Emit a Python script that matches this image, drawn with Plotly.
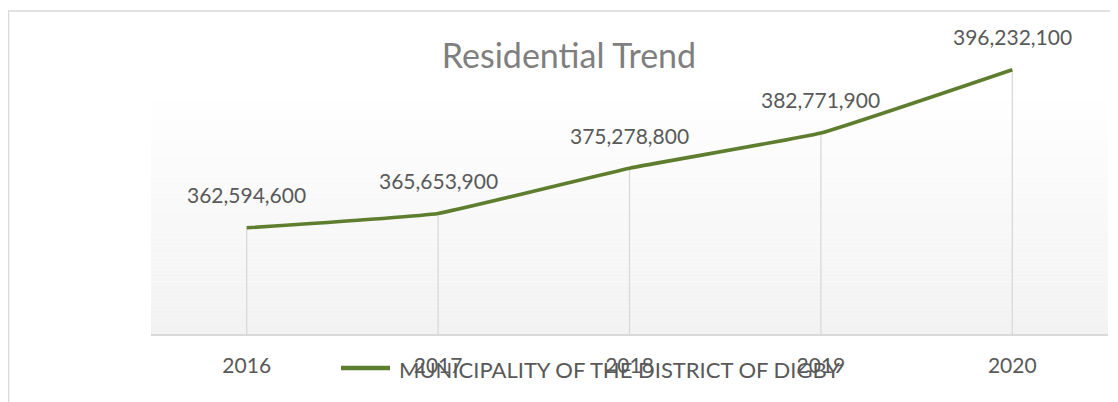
import plotly.graph_objects as go

# ---- data ----
years = ["2016", "2017", "2018", "2019", "2020"]
values = [362594600, 365653900, 375278800, 382771900, 396232100]
series_name = "MUNICIPALITY OF THE DISTRICT OF DIGBY"
title_text = "Residential Trend"
y_min, y_max = 340_000_000, 400_000_000

# ---- layout geometry (page offset of 8px compensated) ----
W, H = 1118, 402
OFF = 8
ML, MT = 151 - OFF, 52 - OFF
AXIS_Y = 334 - OFF
RIGHT_X = 1108 - OFF
MR, MB = W - RIGHT_X, H - AXIS_Y
PW, PH = W - ML - MR, H - MT - MB

def px_x(x):
    return (x - OFF - ML) / PW

def px_y(y):
    return (AXIS_Y - (y - OFF)) / PH

LINE_COLOR = "#5F7D2E"
TEXT_COLOR = "#595959"
GRID_COLOR = "#D9D9D9"
FONT = "Lato, 'Open Sans', sans-serif"

fig = go.Figure()

idx = list(range(len(years)))

# drop lines from axis to each point
dx, dy = [], []
for i, v in zip(idx, values):
    dx += [i, i, None]
    dy += [y_min, v, None]
fig.add_trace(go.Scatter(x=dx, y=dy, mode="lines",
                         line=dict(color=GRID_COLOR, width=1.3),
                         hoverinfo="skip", showlegend=False))

# main series
fig.add_trace(go.Scatter(x=idx, y=values, mode="lines", name=series_name,
                         line=dict(color=LINE_COLOR, width=3.6, shape="spline", smoothing=0.3),
                         showlegend=False))

# data labels
for i, v in zip(idx, values):
    fig.add_annotation(x=i, y=v, xref="x", yref="y", text=f"{v:,}", showarrow=False, yshift=33,
                       yanchor="middle", xanchor="center",
                       font=dict(family=FONT, size=21, color=TEXT_COLOR))

shapes = []
# gradient plot background
top_px, bot_px = 92, 334
N = 60
for k in range(N):
    t0 = k / N
    t1 = (k + 1) / N
    y0 = top_px + (bot_px - top_px) * t0
    y1 = top_px + (bot_px - top_px) * t1
    tm = (t0 + t1) / 2
    c = round(255 - (255 - 242) * tm)
    shapes.append(dict(type="rect", xref="paper", yref="paper",
                       x0=0, x1=1, y0=px_y(y1), y1=px_y(y0),
                       fillcolor=f"rgb({c},{c},{c})", line=dict(width=0), layer="below"))
# outer chart border
shapes.append(dict(type="rect", xref="paper", yref="paper",
                   x0=px_x(8.5), x1=px_x(1140), y0=px_y(430), y1=px_y(11),
                   line=dict(color=GRID_COLOR, width=1.5), fillcolor="rgba(0,0,0,0)", layer="below"))
# legend line sample
shapes.append(dict(type="line", xref="paper", yref="paper",
                   x0=px_x(341), x1=px_x(390), y0=px_y(368), y1=px_y(368),
                   line=dict(color=LINE_COLOR, width=4.5)))

fig.add_annotation(xref="paper", yref="paper", x=px_x(397), y=px_y(369),
                   xanchor="left", yanchor="middle", showarrow=False,
                   text=series_name, font=dict(family=FONT, size=22, color=TEXT_COLOR))

fig.update_layout(
    width=W, height=H,
    margin=dict(l=ML, r=MR, t=MT, b=MB),
    paper_bgcolor="white", plot_bgcolor="rgba(0,0,0,0)",
    shapes=shapes,
    title=dict(text=title_text, x=(569 - OFF) / W, xanchor="center",
               y=1 - (56 - OFF) / H, yanchor="middle",
               xref="container", yref="container",
               font=dict(family=FONT, size=34, color="#7F7F7F")),
    xaxis=dict(range=[-0.5, 4.5], showgrid=False, zeroline=False,
               tickmode="array", tickvals=idx, ticktext=years,
               showline=True, linecolor=GRID_COLOR, linewidth=1.5, ticks="",
               tickfont=dict(family=FONT, size=21, color=TEXT_COLOR),
               ticklabelstandoff=12, fixedrange=True),
    yaxis=dict(range=[y_min, y_max], showgrid=False, zeroline=False, showline=False,
               showticklabels=False, ticks="", fixedrange=True),
    showlegend=False,
)

fig.write_html("out.html")
